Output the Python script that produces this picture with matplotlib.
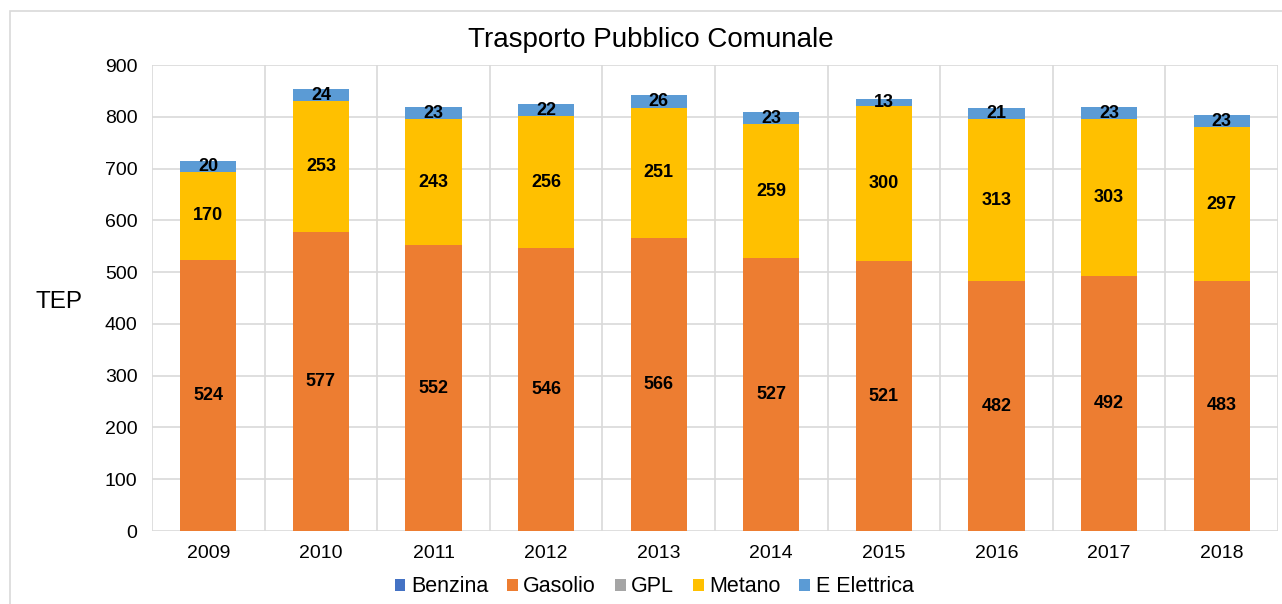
import matplotlib
matplotlib.use("Agg")
import matplotlib.pyplot as plt
from matplotlib.patches import Rectangle
import numpy as np

plt.rcParams['font.family'] = ['Liberation Sans', 'DejaVu Sans']

years = ['2009', '2010', '2011', '2012', '2013', '2014', '2015', '2016', '2017', '2018']
benzina = [0, 0, 0, 0, 0, 0, 0, 0, 0, 0]
gasolio = [524, 577, 552, 546, 566, 527, 521, 482, 492, 483]
gpl = [0, 0, 0, 0, 0, 0, 0, 0, 0, 0]
metano = [170, 253, 243, 256, 251, 259, 300, 313, 303, 297]
elettrica = [20, 24, 23, 22, 26, 23, 13, 21, 23, 23]

series = [
    ('Benzina', benzina, '#4472C4'),
    ('Gasolio', gasolio, '#ED7D31'),
    ('GPL', gpl, '#A5A5A5'),
    ('Metano', metano, '#FFC000'),
    ('E Elettrica', elettrica, '#5B9BD5'),
]

fig = plt.figure(figsize=(12.82, 6.04), dpi=100)
ax = fig.add_axes([152/1282, 1-531/604, (1278-152)/1282, (531-65)/604])

x = np.arange(len(years))
bottom = np.zeros(len(years))
for name, vals, color in series:
    vals = np.array(vals, dtype=float)
    ax.bar(x, vals, 0.5, bottom=bottom, color=color, label=name, zorder=3)
    for xi, b, v in zip(x, bottom, vals):
        if v > 0:
            ax.text(xi, b + v/2, f'{int(v)}', ha='center', va='center',
                    fontsize=13, fontweight='bold', color='black', zorder=4)
    bottom += vals

ax.set_ylim(0, 900)
ax.set_xlim(-0.5, len(years)-0.5)
ax.set_yticks(range(0, 901, 100))
ax.set_xticks(x)
ax.set_xticklabels(years)
ax.set_xticks(np.arange(-0.5, len(years), 1.0), minor=True)
ax.tick_params(axis='both', which='both', length=0, labelsize=14, colors='#000000')
ax.tick_params(axis='x', pad=10)
ax.tick_params(axis='y', pad=10.5)
ax.grid(axis='y', which='major', color='#d9d9d9', linewidth=1.2, zorder=0)
ax.grid(axis='x', which='minor', color='#d9d9d9', linewidth=1.2, zorder=0)
for s in ax.spines.values():
    s.set_visible(False)

fig.text(59/1282, 1-302/604, 'TEP', fontsize=17.5, ha='center', va='center')
fig.text(651/1282, 1-40/604, 'Trasporto Pubblico Comunale', fontsize=20, ha='center', va='center')

handles, labels = ax.get_legend_handles_labels()
fig.legend(handles, labels, loc='center', bbox_to_anchor=(654/1282, 1-587/604),
           ncol=5, frameon=False, fontsize=15.5, handlelength=0.5, handleheight=0.5,
           handletextpad=0.25, columnspacing=0.88)

fig.patches.append(Rectangle((10/1282, -0.01), 1.1, 1-11/604+0.01, transform=fig.transFigure,
                             fill=False, edgecolor='#d9d9d9', linewidth=1.2))

fig.savefig('out.png', dpi=100)
